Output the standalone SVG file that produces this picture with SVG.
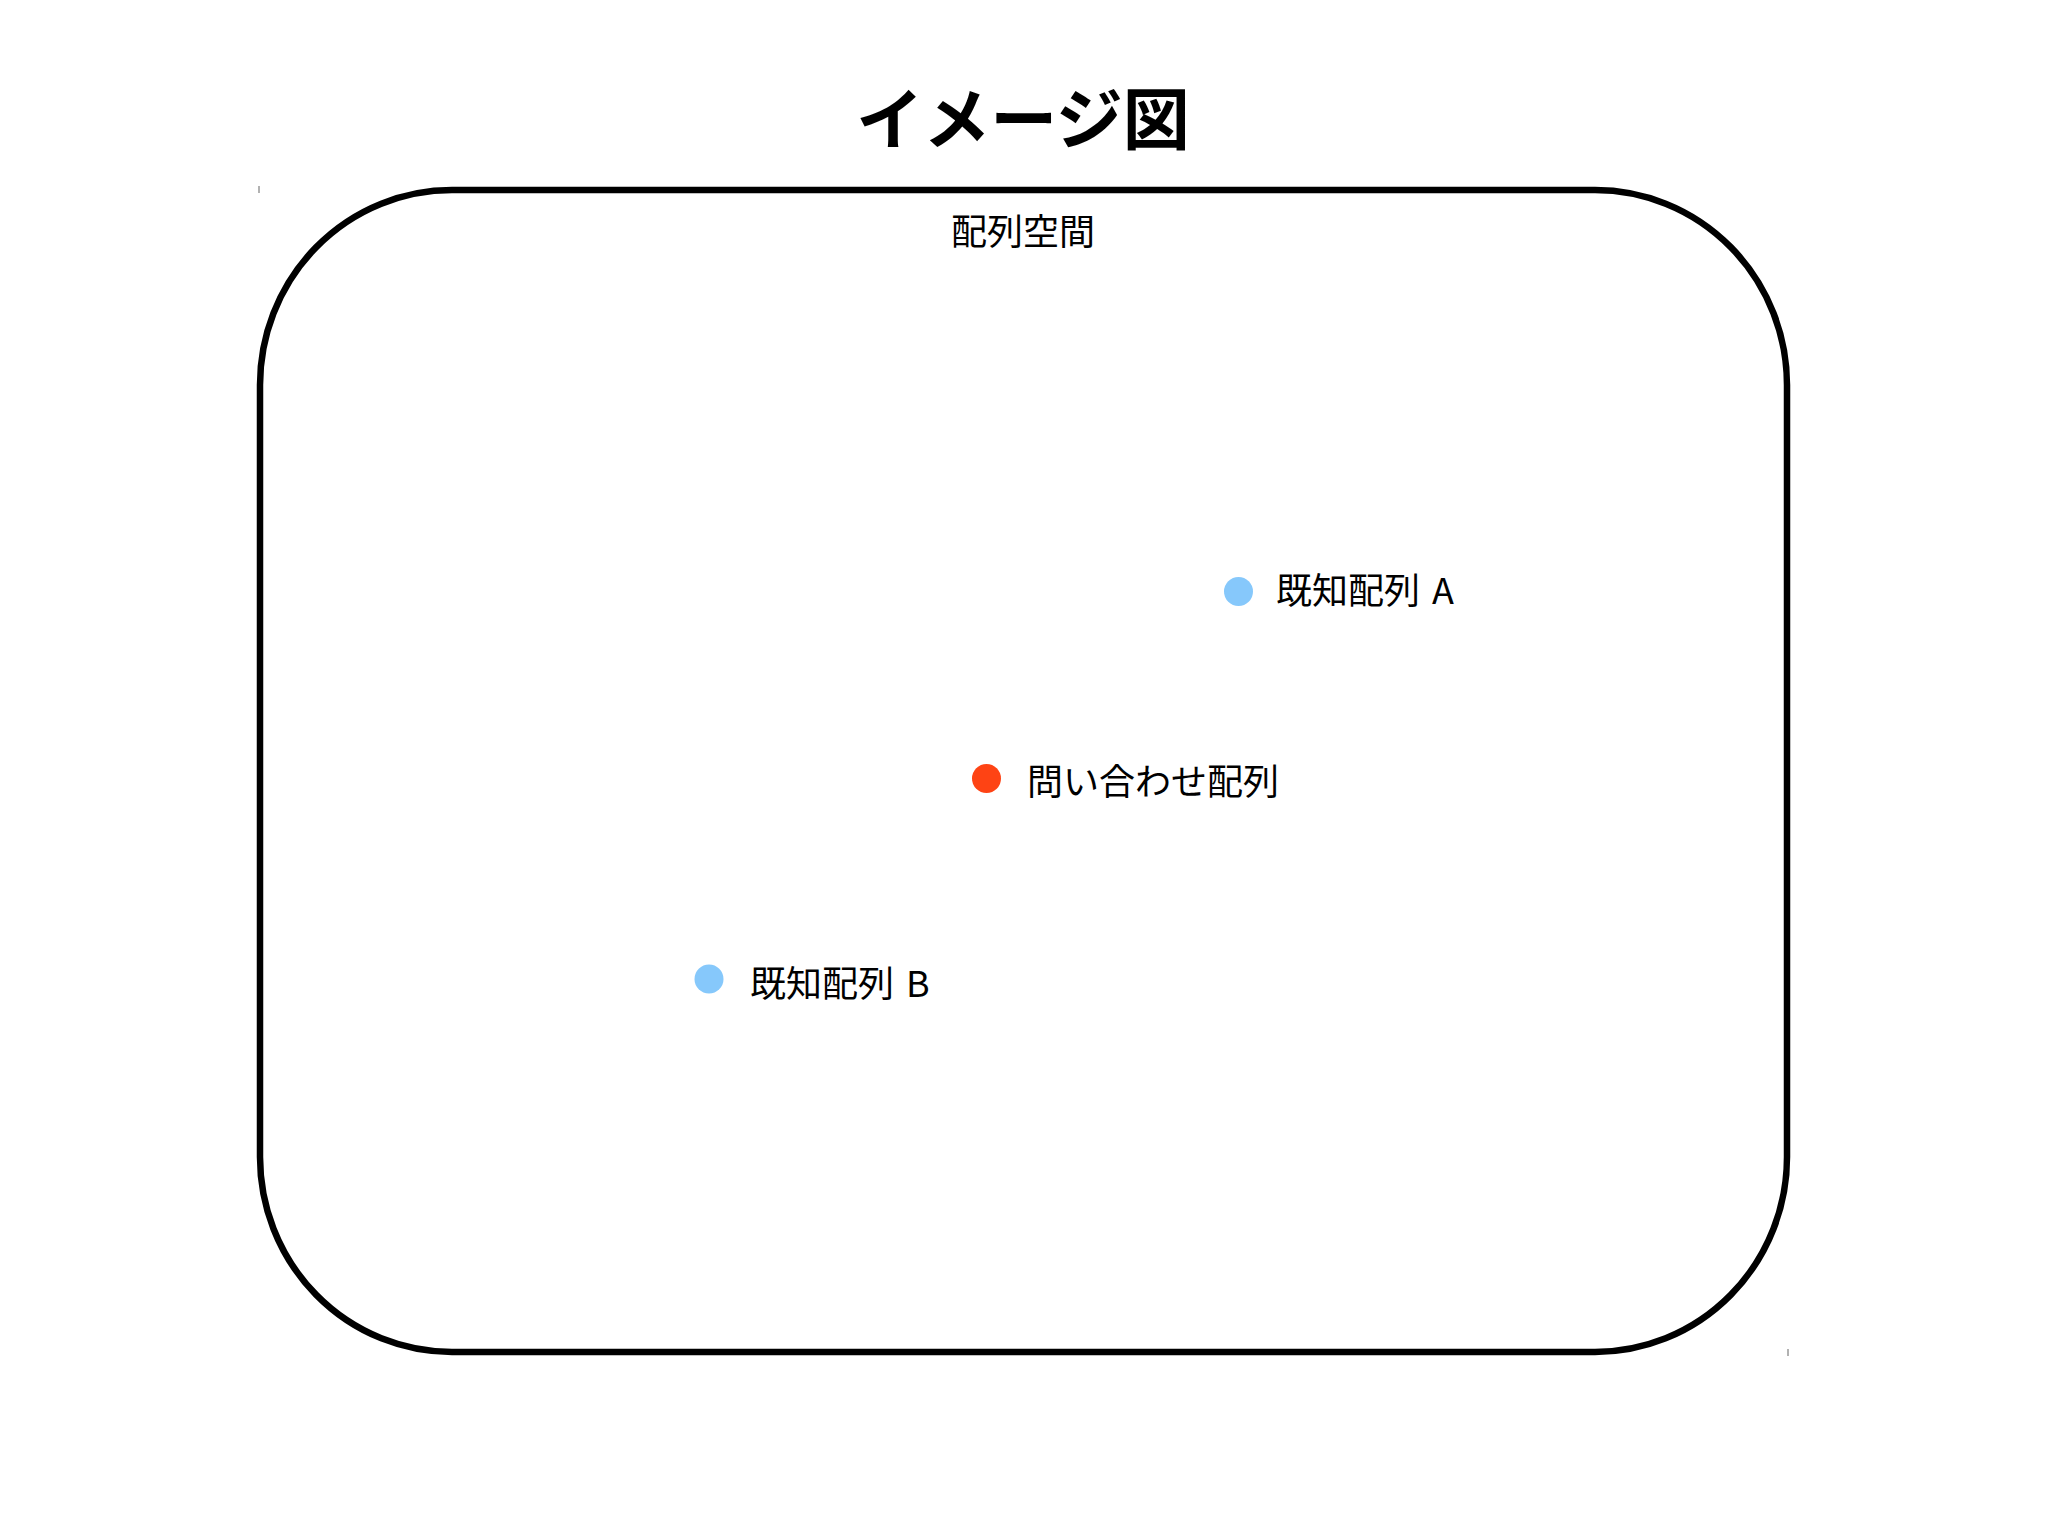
<svg xmlns="http://www.w3.org/2000/svg" width="2048" height="1535" viewBox="0 0 2048 1535">
<style>
.t{font-family:"Noto Sans CJK JP","Noto Sans",sans-serif;fill:#000;}
.lbl{font-size:36px;}
.title{font-size:67px;font-weight:bold;}
.known{fill:#86c8fb;}
.query{fill:#fe4314;}
.tick{stroke:#999;stroke-width:1.5;}
</style>
<rect width="2048" height="1535" fill="#fff"/>
<text class="t title" x="1023" y="144" text-anchor="middle">イメージ図</text>
<g id="space">
<rect x="260" y="190" width="1527" height="1162" rx="192" ry="195" fill="none" stroke="#000" stroke-width="6.5"/>
<text class="t lbl" x="1023" y="245" text-anchor="middle">配列空間</text>
<line class="tick" x1="259" y1="186" x2="259" y2="193"/>
<line class="tick" x1="1788" y1="1349" x2="1788" y2="1356"/>
</g>
<g id="connectors"></g>
<g id="knownA">
<circle class="known" cx="1238.5" cy="591.5" r="14.5"/>
<text class="t lbl" x="1276" y="604">既知配列<tspan dx="4"> A</tspan></text>
</g>
<g id="queryNode">
<circle class="query" cx="986.5" cy="778.5" r="14.5"/>
<text class="t lbl" x="1027" y="795">問い合わせ配列</text>
</g>
<g id="knownB">
<circle class="known" cx="709" cy="979" r="14.5"/>
<text class="t lbl" x="750" y="997">既知配列<tspan dx="4"> B</tspan></text>
</g>
</svg>
